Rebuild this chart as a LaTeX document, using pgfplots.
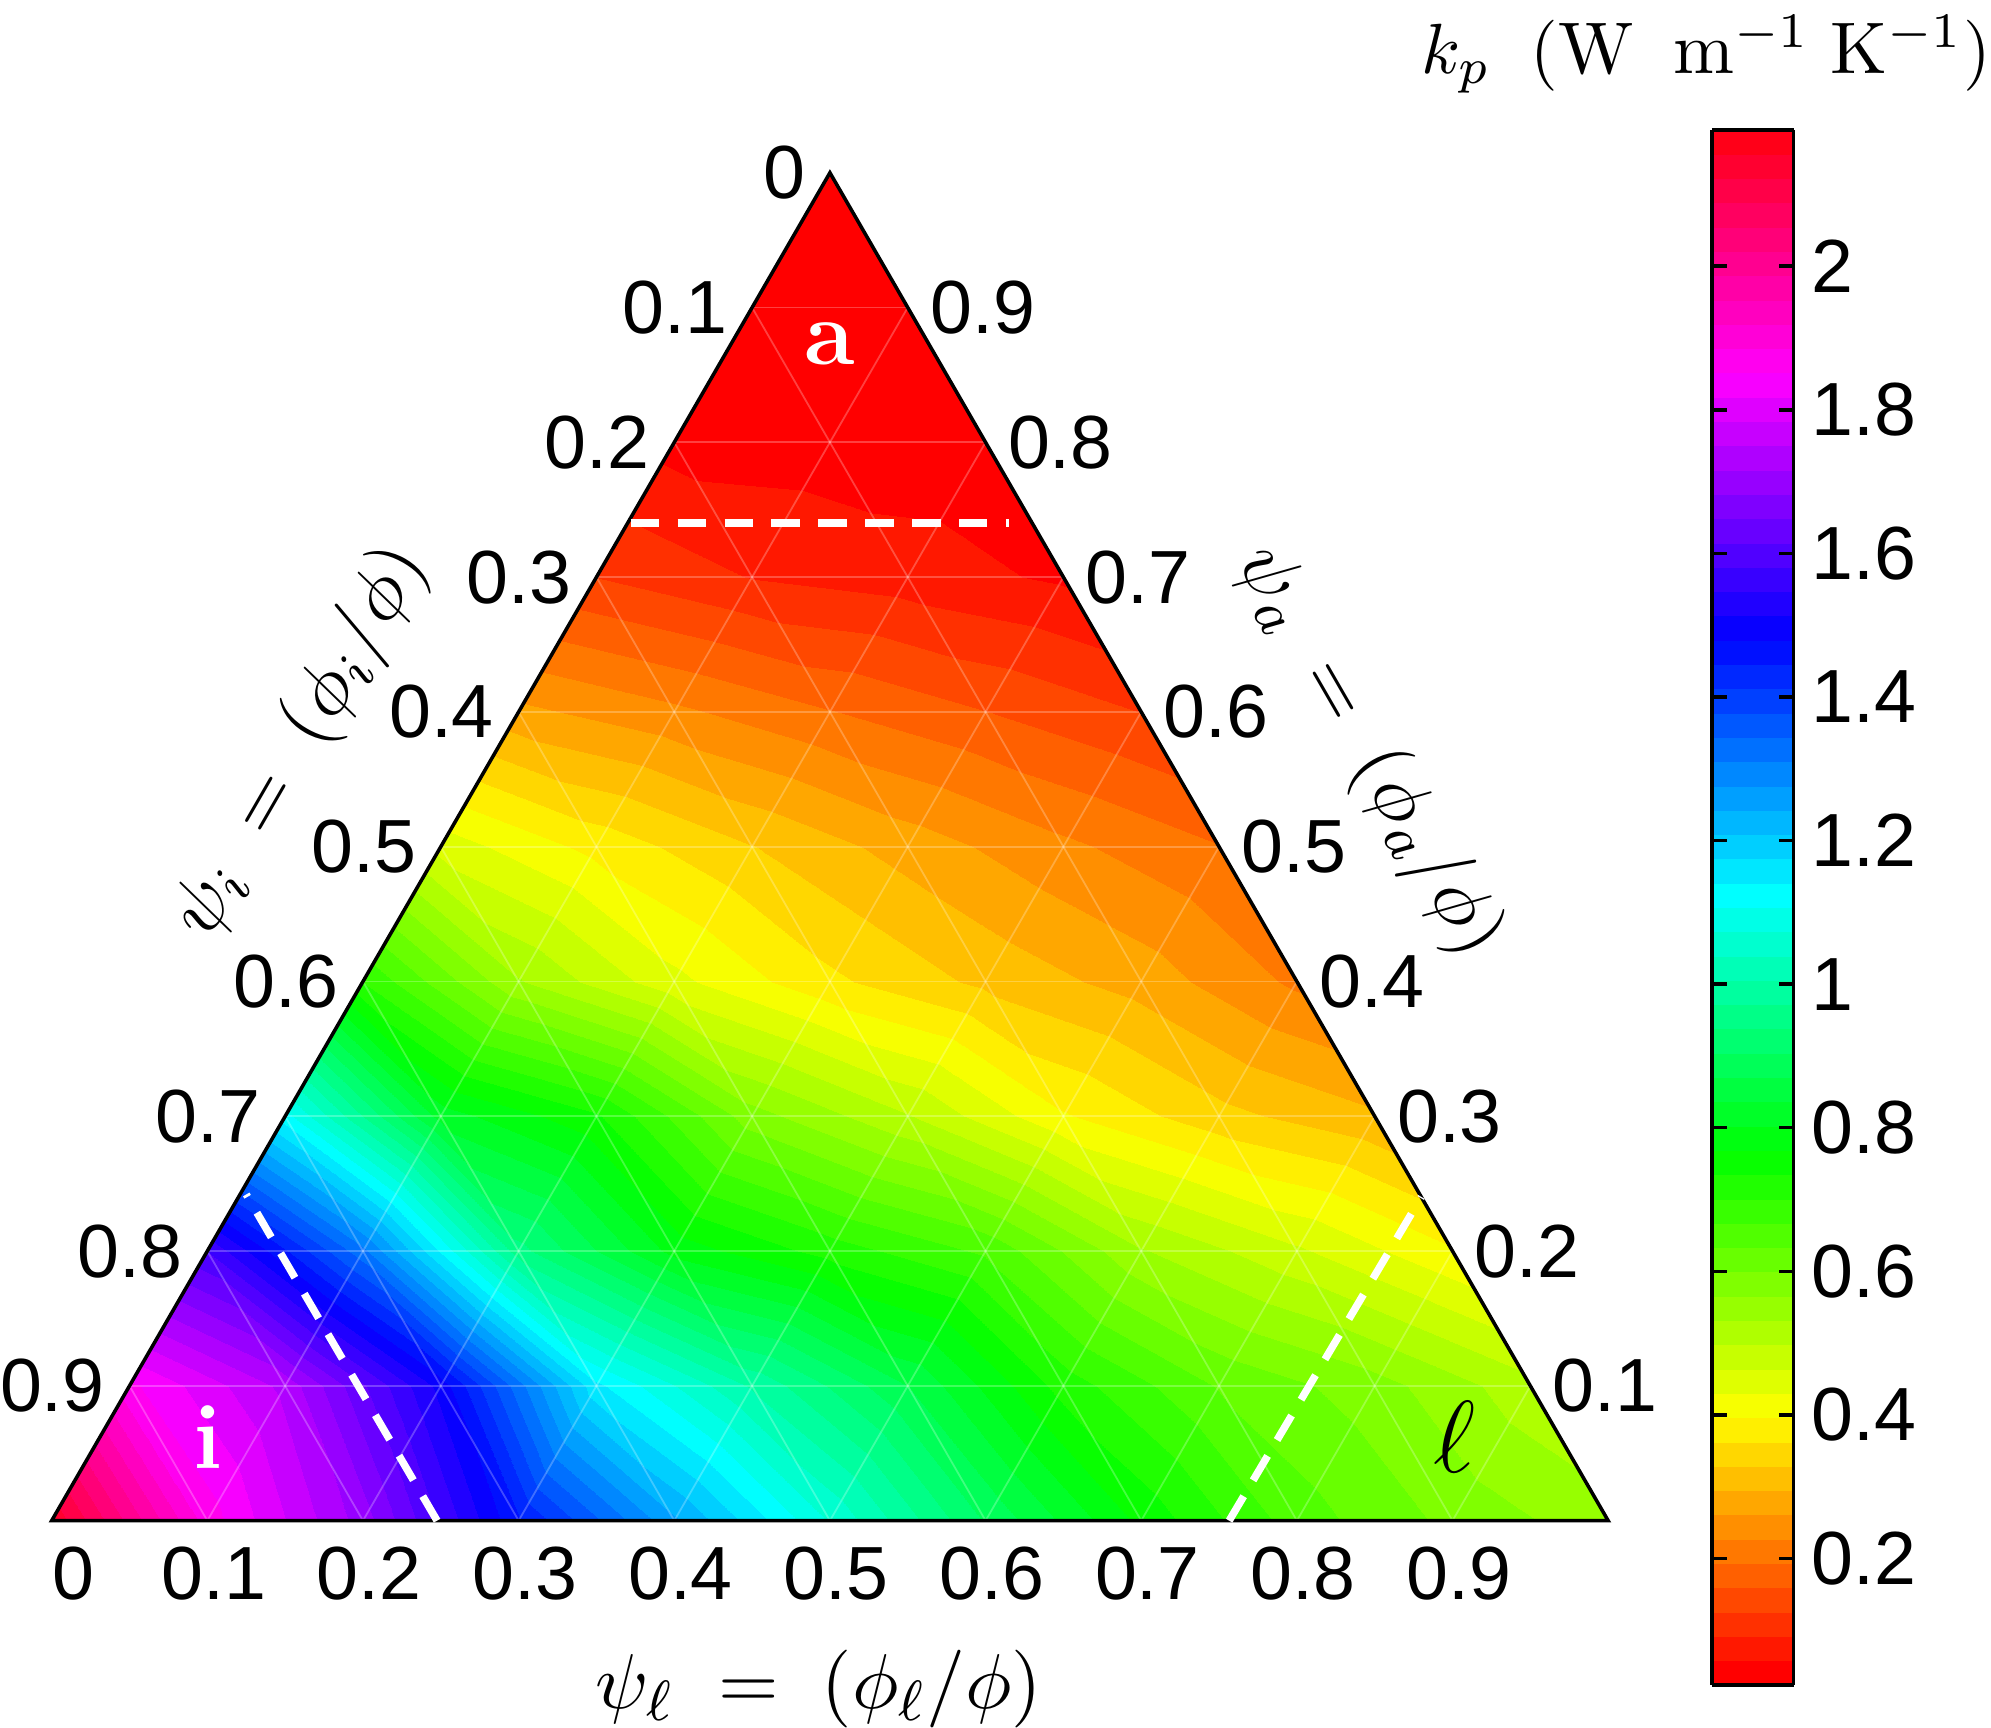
\documentclass[border=0pt]{standalone}
\usepackage{fontspec}
\usepackage{pgfplots}
\usepackage{pgfplotstable}
\pgfplotsset{compat=1.18}
\newfontfamily\arialf{Liberation Sans}
\newcommand\tickf{\fontsize{10.6}{12}\selectfont\arialf}
\newcommand\labf{\fontsize{11}{13}\selectfont}
\tikzset{tl/.style={inner sep=0pt, font=\tickf}, al/.style={inner sep=0pt, font=\labf}}

% matlab hsv(64)
\pgfplotsset{
  colormap={hsvbase}{rgb255(0cm)=(255,0,0) rgb255(1cm)=(255,255,0) rgb255(2cm)=(0,255,0)
    rgb255(3cm)=(0,255,255) rgb255(4cm)=(0,0,255) rgb255(5cm)=(255,0,255) rgb255(5.90625cm)=(255,0,24)},
  colormap={hsvmat}{samples of colormap={64 of hsvbase}},
}

% k_p read at the ternary nodes: l = psi_l, a = psi_a
\pgfplotstableread{
l   a   k
0.0 0.0 2.15
0.1 0.0 1.87
0.2 0.0 1.70
0.3 0.0 1.45
0.4 0.0 1.25
0.5 0.0 1.07
0.6 0.0 0.90
0.7 0.0 0.76
0.8 0.0 0.65
0.9 0.0 0.59
1.0 0.0 0.545
0.0 0.1 1.86
0.1 0.1 1.74
0.2 0.1 1.50
0.3 0.1 1.15
0.4 0.1 1.00
0.5 0.1 0.87
0.6 0.1 0.72
0.7 0.1 0.63
0.8 0.1 0.58
0.9 0.1 0.51
0.0 0.2 1.58
0.1 0.2 1.32
0.2 0.2 0.95
0.3 0.2 0.79
0.4 0.2 0.72
0.5 0.2 0.66
0.6 0.2 0.535
0.7 0.2 0.47
0.8 0.2 0.40
0.0 0.3 1.12
0.1 0.3 0.82
0.2 0.3 0.74
0.3 0.3 0.58
0.4 0.3 0.50
0.5 0.3 0.40
0.6 0.3 0.34
0.7 0.3 0.30
0.0 0.4 0.70
0.1 0.4 0.535
0.2 0.4 0.44
0.3 0.4 0.37
0.4 0.4 0.32
0.5 0.4 0.28
0.6 0.4 0.22
0.0 0.5 0.45
0.1 0.5 0.385
0.2 0.5 0.33
0.3 0.5 0.28
0.4 0.5 0.235
0.5 0.5 0.195
0.0 0.6 0.27
0.1 0.6 0.235
0.2 0.6 0.195
0.3 0.6 0.16
0.4 0.6 0.125
0.0 0.7 0.125
0.1 0.7 0.09
0.2 0.7 0.074
0.3 0.7 0.052
0.0 0.8 0.045
0.1 0.8 0.04
0.2 0.8 0.035
0.0 0.9 0.03
0.1 0.9 0.028
0.0 1.0 0.026
}\kdata

\begin{document}
\begin{tikzpicture}
\begin{axis}[
  scale only axis, width=219pt, height=189.66pt,
  xmin=0, xmax=1, ymin=0, ymax=0.8660254,
  hide axis, clip=false,
  colormap name=hsvmat,
  colormap access=piecewise constant,
  point meta min=0.024, point meta max=2.19,
  colorbar,
  colorbar shift/.style={},
  colorbar style={
    at={(233.6pt,-23.1pt)}, anchor=south west,
    scale only axis, width=11.5pt, height=218.8pt,
    ytick={0.2,0.4,0.6,0.8,1,1.2,1.4,1.6,1.8,2},
    ytick pos=both, yticklabel pos=right,
    tick align=inside, major tick length=2.1pt,
    minor tick num=0,
    yticklabel style={font=\tickf, inner sep=0pt, xshift=2.3pt},
    /pgf/number format/assume math mode=true,
    axis line style={line width=0.5pt},
    tick style={black, line width=0.5pt},
  },
]
\addplot[patch, shader=interp, point meta=explicit,
  table/row sep=\\,
  patch table={
0 1 11\\ 1 2 12\\ 2 3 13\\ 3 4 14\\ 4 5 15\\ 5 6 16\\ 6 7 17\\ 7 8 18\\ 8 9 19\\ 9 10 20\\
1 11 12\\ 2 12 13\\ 3 13 14\\ 4 14 15\\ 5 15 16\\ 6 16 17\\ 7 17 18\\ 8 18 19\\ 9 19 20\\
11 12 21\\ 12 13 22\\ 13 14 23\\ 14 15 24\\ 15 16 25\\ 16 17 26\\ 17 18 27\\ 18 19 28\\ 19 20 29\\
12 21 22\\ 13 22 23\\ 14 23 24\\ 15 24 25\\ 16 25 26\\ 17 26 27\\ 18 27 28\\ 19 28 29\\
21 22 30\\ 22 23 31\\ 23 24 32\\ 24 25 33\\ 25 26 34\\ 26 27 35\\ 27 28 36\\ 28 29 37\\
22 30 31\\ 23 31 32\\ 24 32 33\\ 25 33 34\\ 26 34 35\\ 27 35 36\\ 28 36 37\\
30 31 38\\ 31 32 39\\ 32 33 40\\ 33 34 41\\ 34 35 42\\ 35 36 43\\ 36 37 44\\
31 38 39\\ 32 39 40\\ 33 40 41\\ 34 41 42\\ 35 42 43\\ 36 43 44\\
38 39 45\\ 39 40 46\\ 40 41 47\\ 41 42 48\\ 42 43 49\\ 43 44 50\\
39 45 46\\ 40 46 47\\ 41 47 48\\ 42 48 49\\ 43 49 50\\
45 46 51\\ 46 47 52\\ 47 48 53\\ 48 49 54\\ 49 50 55\\
46 51 52\\ 47 52 53\\ 48 53 54\\ 49 54 55\\
51 52 56\\ 52 53 57\\ 53 54 58\\ 54 55 59\\
52 56 57\\ 53 57 58\\ 54 58 59\\
56 57 60\\ 57 58 61\\ 58 59 62\\
57 60 61\\ 58 61 62\\
60 61 63\\ 61 62 64\\
61 63 64\\
63 64 65\\
  }]
  table[x expr=\thisrow{l}+0.5*\thisrow{a}, y expr=0.8660254*\thisrow{a}, meta=k] {\kdata};

% faint mesh lines
\pgfplotsinvokeforeach{1,...,9}{
  \draw[white, opacity=0.25, line width=0.25pt]
    (axis cs:{#1/20},{#1*0.08660254}) -- (axis cs:{1-#1/20},{#1*0.08660254});
  \draw[white, opacity=0.25, line width=0.25pt]
    (axis cs:{#1/10},0) -- (axis cs:{0.5+#1/20},{(1-#1/10)*0.8660254});
  \draw[white, opacity=0.25, line width=0.25pt]
    (axis cs:{1-#1/10},0) -- (axis cs:{0.5-#1/20},{(1-#1/10)*0.8660254});
}

\draw[black, line width=0.5pt] (axis cs:0,0) -- (axis cs:1,0) -- (axis cs:0.5,0.8660254) -- cycle;

% dashed boundaries
\draw[white, line width=1.05pt, dash pattern=on 4pt off 2.6pt]
  (axis cs:0.372,0.6409) -- (axis cs:0.615,0.6409);
\draw[white, line width=1.05pt, dash pattern=on 4pt off 2.6pt]
  (axis cs:0.2476,0) -- (axis cs:0.125,0.2096);
\draw[white, line width=1.05pt, dash pattern=on 4pt off 2.6pt]
  (axis cs:0.7565,0) -- (axis cs:0.88,0.208);

% corner labels
\node[white, font=\fontsize{13}{15}\selectfont\bfseries] at (axis cs:0.5,0.756) {a};
\node[white, font=\fontsize{13}{15}\selectfont\bfseries] at (axis cs:0.1004,0.0537) {i};
\node[black, font=\fontsize{14}{16}\selectfont] at (axis cs:0.901,0.0537) {$\ell$};

% left side (psi_i)
\node[tl, anchor=east] at (axis cs:0.485,0.8660) {0};
\node[tl, anchor=east] at (axis cs:0.435,0.7794) {0.1};
\node[tl, anchor=east] at (axis cs:0.385,0.6928) {0.2};
\node[tl, anchor=east] at (axis cs:0.335,0.6062) {0.3};
\node[tl, anchor=east] at (axis cs:0.285,0.5196) {0.4};
\node[tl, anchor=east] at (axis cs:0.235,0.4330) {0.5};
\node[tl, anchor=east] at (axis cs:0.185,0.3464) {0.6};
\node[tl, anchor=east] at (axis cs:0.135,0.2598) {0.7};
\node[tl, anchor=east] at (axis cs:0.085,0.1732) {0.8};
\node[tl, anchor=east] at (axis cs:0.035,0.0866) {0.9};

% right side (psi_a)
\node[tl, anchor=west] at (axis cs:0.5635,0.7794) {0.9};
\node[tl, anchor=west] at (axis cs:0.6135,0.6928) {0.8};
\node[tl, anchor=west] at (axis cs:0.6635,0.6062) {0.7};
\node[tl, anchor=west] at (axis cs:0.7135,0.5196) {0.6};
\node[tl, anchor=west] at (axis cs:0.7635,0.4330) {0.5};
\node[tl, anchor=west] at (axis cs:0.8135,0.3464) {0.4};
\node[tl, anchor=west] at (axis cs:0.8635,0.2598) {0.3};
\node[tl, anchor=west] at (axis cs:0.9135,0.1732) {0.2};
\node[tl, anchor=west] at (axis cs:0.9635,0.0866) {0.1};

% bottom (psi_l)
\node[tl] at (axis cs:0.014,-0.034) {0};
\node[tl] at (axis cs:0.104,-0.034) {0.1};
\node[tl] at (axis cs:0.204,-0.034) {0.2};
\node[tl] at (axis cs:0.304,-0.034) {0.3};
\node[tl] at (axis cs:0.404,-0.034) {0.4};
\node[tl] at (axis cs:0.504,-0.034) {0.5};
\node[tl] at (axis cs:0.604,-0.034) {0.6};
\node[tl] at (axis cs:0.704,-0.034) {0.7};
\node[tl] at (axis cs:0.804,-0.034) {0.8};
\node[tl] at (axis cs:0.904,-0.034) {0.9};

% axis titles
\node[al] at (axis cs:0.493,-0.108) {$\psi_\ell\;=\;(\phi_\ell/\phi)$};
\node[al, rotate=60] at (axis cs:0.160,0.500) {$\psi_i\;=\;(\phi_i/\phi)$};
\node[al, rotate=-60] at (axis cs:0.846,0.494) {$\psi_a\;=\;(\phi_a/\phi)$};
\node[inner sep=0pt, font=\fontsize{10.3}{12}\selectfont] at (axis cs:1.063,0.942)
  {$k_p\;\;(\mathrm{W}\;\;\mathrm{m}^{-1}\;\mathrm{K}^{-1})$};
% top margin above the title
\path (axis cs:1.0,0.977);
\end{axis}
\end{tikzpicture}
\end{document}
